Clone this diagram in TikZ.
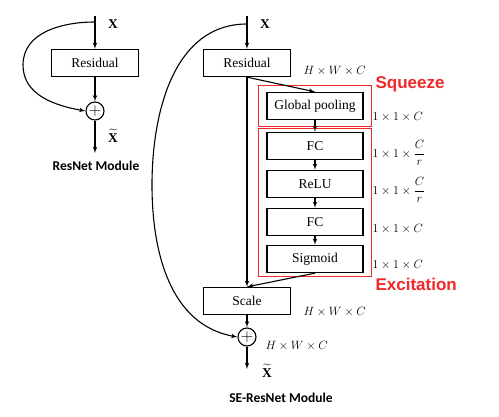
\documentclass[tikz,border=0pt]{standalone}
\usepackage{amsmath}
\usepackage{fontspec}
\setmainfont{Liberation Serif}
\setsansfont{Carlito}
\newfontfamily\tagfont{Liberation Sans}
\usetikzlibrary{shapes,arrows,positioning,calc,fit}
\definecolor{sered}{RGB}{240,40,40}
\tikzset{
block/.style = {draw, line width=1.3pt, rectangle, align=center, minimum width=87pt, minimum height=27pt, inner sep=0pt, font=\fontsize{13.5}{15}\selectfont},
seblock/.style = {block, minimum width=96pt},
sum/.style = {draw, line width=1.1pt, circle, minimum size=18pt, inner sep=0pt, font=\fontsize{17}{17}\selectfont},
group/.style = {draw=sered, line width=0.8pt, rectangle, inner xsep=8pt, inner ysep=5pt},
dims/.style = {anchor=west, inner sep=0pt, font=\fontsize{12}{14}\selectfont},
title/.style = {inner sep=0pt, font=\sffamily\bfseries\fontsize{13.5}{15}\selectfont},
tag/.style = {anchor=west, inner sep=0pt, text=sered, font=\tagfont\bfseries\fontsize{17}{19}\selectfont},
sym/.style = {inner sep=0pt, font=\fontsize{13.5}{15}\selectfont}
}
\begin{document}
\begin{tikzpicture}[x=1pt, y=-1pt, >=latex', line width=1.1pt]
    \useasboundingbox (0,0) rectangle (499,417);

    % ResNet module
    \coordinate (inL) at (95,16);
    \coordinate (skipL) at (95,22);
    \coordinate (bendL) at (23,65);
    \node [block] (resL) at (95,63) {Residual};
    \node [sum, below of = resL, node distance = 48pt] (sumL) {$+$};
    \coordinate [below of = sumL, node distance = 42pt] (outL);
    \node [sym] (xL) at (113,24) {\textbf{X}};
    \node [sym] (xtL) at (113,136) {$\widetilde{\mathbf{X}}$};
    \node [title] (nameL) at (96,166) {ResNet Module};

    \draw [->] (inL) -- (resL);
    \draw [->] (resL) -- (sumL);
    \draw [->] (sumL) -- (outL);
    \draw [->] (skipL) to[out=180,in=90] (bendL) to[out=-90,in=170] (sumL.west);

    % SE-ResNet module
    \coordinate (inR) at (247,16);
    \coordinate (skipR) at (247,24);
    \coordinate (bendR) at (152,185);
    \node [block] (resR) at (247,63) {Residual};
    \node [seblock] (gp) at (315,106) {Global pooling};
    \node [seblock, below of = gp, node distance = 40pt] (fc1) {FC};
    \node [seblock, below of = fc1, node distance = 38pt] (relu) {ReLU};
    \node [seblock, below of = relu, node distance = 38pt] (fc2) {FC};
    \node [seblock, below of = fc2, node distance = 37pt] (sig) {Sigmoid};
    \node [block] (scale) at (247,301) {Scale};
    \node [sum, below of = scale, node distance = 36pt] (sumR) {$+$};
    \coordinate [below of = sumR, node distance = 32pt] (outR);

    \node [group, fit=(gp), inner ysep=6pt] (squeeze) {};
    \node [group, fit=(fc1)(sig), inner ysep=3.5pt] (excite) {};
    \node [tag] (sqtag) at (375,84) {Squeeze};
    \node [tag] (extag) at (375,284) {Excitation};

    \node [sym] (xR) at (265,24) {\textbf{X}};
    \node [sym] (xtR) at (267,371) {$\widetilde{\mathbf{X}}$};
    \node [dims] (d0) at (303,71) {$H\times W\times C$};
    \node [dims] (d1) at (372,117) {$1\times1\times C$};
    \node [dims] (d2) at (372,153) {$1\times1\times\dfrac{C}{r}$};
    \node [dims] (d3) at (372,190) {$1\times1\times\dfrac{C}{r}$};
    \node [dims] (d4) at (372,229) {$1\times1\times C$};
    \node [dims] (d5) at (372,265) {$1\times1\times C$};
    \node [dims] (d6) at (303,312) {$H\times W\times C$};
    \node [dims] (d7) at (265,346) {$H\times W\times C$};
    \node [title] (nameR) at (281,398) {SE-ResNet Module};

    \draw [->] (inR) -- (resR);
    \draw [->] (resR.south) -- (gp.north);
    \draw [->] (resR) -- (scale);
    \draw [->] (gp) -- (fc1);
    \draw [->] (fc1) -- (relu);
    \draw [->] (relu) -- (fc2);
    \draw [->] (fc2) -- (sig);
    \draw [->] (sig.south) -- (scale.north);
    \draw [->] (scale) -- (sumR);
    \draw [->] (sumR) -- (outR);
    \draw [->] (skipR) to[out=180,in=90] (bendR) to[out=-90,in=170] (sumR.west);
\end{tikzpicture}
\end{document}
